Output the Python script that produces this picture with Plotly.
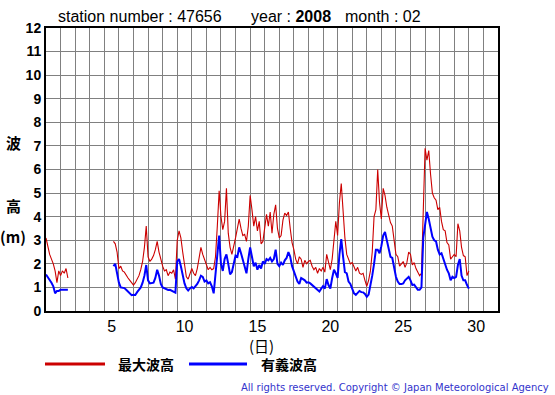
import plotly.graph_objects as go

# ---------------- data (wave heights in metres, 3-hourly) ----------------
STEP_DAYS = 3 / 24.0          # sampling interval
SEG1_START = 0.0              # Feb 1 00h (days since Feb 1 00h)
SEG2_START = 4.625            # Feb 5 15h

max_wave_seg1 = [3.1, 2.7, 2.4, 2.2, 2.0, 1.7, 1.2, 1.7, 1.5, 1.7, 1.6, 1.8, 1.4]
sig_wave_seg1 = [1.55, 1.45, 1.35, 1.2, 1.05, 0.75, 0.85, 0.85, 0.9, 0.9, 0.9, 0.92, 0.9]

max_wave_seg2 = [
    2.95, 2.85, 2.5, 1.8, 1.9, 1.7, 1.65, 1.5, 1.4, 1.3,
    1.17, 1.1, 1.2, 1.35, 1.5, 1.75, 2.1, 2.7, 3.6, 2.3,
    2.1, 2.2, 2.35, 2.6, 2.95, 2.5, 2.15, 1.9, 1.7, 1.75,
    1.5, 1.65, 1.6, 1.75, 1.35,
    3.0, 3.4, 3.1, 2.5, 1.9,
    1.45, 1.35, 1.6, 1.8, 1.6, 1.5, 1.8, 2.2, 2.7, 2.4,
    2.2, 1.95, 1.75, 1.85, 1.75, 1.8, 2.3, 3.6, 5.1, 4.0,
    3.45, 3.8, 5.2, 3.3, 2.7, 2.4, 2.7, 3.1, 3.5, 3.9,
    3.5, 3.2, 3.25, 2.95, 3.6,
    4.9, 4.3, 3.6, 4.0, 3.4,
    3.8, 2.85, 2.95, 3.6, 4.1, 3.6, 4.2, 3.3, 4.1, 4.5,
    3.5, 3.1, 3.2, 3.85, 4.15, 4.05, 4.2, 3.5, 2.9, 2.6,
    2.2, 2.0, 2.3, 2.2, 1.85, 2.15, 2.0, 2.1, 2.15, 1.9,
    1.75, 1.85, 1.6, 1.8, 1.7,
    1.85, 1.65, 2.4, 2.0, 1.75,
    2.2, 3.2, 3.8, 3.2, 4.6, 5.4, 4.2, 3.1, 2.4, 2.2,
    2.0, 2.05, 1.85, 1.7, 1.85, 1.6, 1.55, 1.6, 1.3, 1.05,
    1.3, 1.7, 2.5, 4.0, 4.3, 6.0, 4.6, 3.9, 5.2, 4.9,
    4.4, 4.0, 3.75, 3.6, 3.1,
    2.4, 2.3, 1.9, 2.0, 2.1,
    1.85, 2.05, 2.5, 2.4, 1.95, 2.05, 1.8, 1.65, 1.5, 1.6,
    3.8, 6.9, 6.4, 6.8, 5.8, 5.0, 4.8, 4.7, 4.3, 4.4,
    3.8, 3.45, 3.4, 2.9, 2.8, 2.2, 2.3, 2.4, 2.3, 3.7,
    3.4, 2.7, 2.35, 2.3, 1.5, 1.7,
]
sig_wave_seg2 = [
    1.9, 2.0, 1.6, 1.2, 1.0, 0.98, 0.97, 0.9, 0.83, 0.74,
    0.67, 0.69, 0.68, 0.8, 0.9, 1.0, 1.2, 1.5, 1.95, 1.3,
    1.17, 1.2, 1.2, 1.4, 1.75, 1.5, 1.15, 1.0, 0.96, 0.91,
    0.89, 0.9, 0.86, 0.85, 0.78,
    2.1, 2.2, 1.9, 1.45, 1.17,
    0.96, 0.87, 0.96, 1.02, 0.96, 1.05, 1.15, 1.3, 1.5, 1.45,
    1.25, 1.3, 1.17, 1.22, 1.05, 0.75, 1.6, 2.5, 3.2, 2.0,
    1.7, 2.2, 2.4, 2.0, 1.55, 1.65, 1.95, 2.35, 2.3, 2.7,
    2.45, 2.15, 1.9, 1.6, 2.2,
    2.7, 2.3, 1.9, 2.05, 1.75,
    1.95, 1.8, 2.1, 2.0, 2.2, 2.15, 2.25, 2.1, 2.2, 2.6,
    2.0, 1.9, 2.05, 1.95, 2.15, 2.25, 2.5, 2.3, 1.9, 1.65,
    1.45, 1.25, 1.15, 1.4, 1.35, 1.3, 1.2, 1.22, 1.17, 1.1,
    1.03, 0.96, 0.88, 0.83, 0.95,
    1.05, 0.95, 1.35, 1.1, 0.95,
    1.4, 1.75, 1.6, 1.4, 2.4, 3.05, 2.3, 1.65, 1.6, 1.25,
    1.15, 0.95, 0.75, 0.68, 0.75, 0.85, 0.8, 0.79, 0.72, 0.6,
    0.7, 1.05, 1.5, 2.0, 2.6, 2.6, 2.45, 2.75, 3.2, 3.35,
    3.0, 2.55, 2.3, 2.25, 1.75,
    1.45, 1.25, 1.14, 1.14, 1.17,
    1.3, 1.38, 1.45, 1.3, 1.1, 1.12, 1.0, 0.9, 0.9, 1.0,
    3.1, 3.6, 4.2, 3.9, 3.5, 3.15, 3.0, 2.95, 2.6, 2.4,
    2.45, 2.2, 1.95, 1.75, 1.6, 1.3, 1.45, 1.4, 1.45, 1.95,
    2.2, 1.5, 1.3, 1.3, 1.1, 0.95,
]

day_tick_vals = [4.5, 9.5, 14.5, 19.5, 24.5, 29.5]
day_tick_text = ["5", "10", "15", "20", "25", "30"]
y_tick_vals = list(range(0, 13))

# ---------------- build x (days since Feb 1 00h) ----------------
t1 = [SEG1_START + i * STEP_DAYS for i in range(len(max_wave_seg1))]
t2 = [SEG2_START + i * STEP_DAYS for i in range(len(max_wave_seg2))]
t_all = t1 + [None] + t2
max_all = max_wave_seg1 + [None] + max_wave_seg2
sig_all = sig_wave_seg1 + [None] + sig_wave_seg2

RED = "#cc0000"
BLUE = "#0000ff"
GRID = "#808080"
FONT = "Liberation Sans, Arial, sans-serif"
CJK = "Noto Sans CJK JP, sans-serif"

fig = go.Figure()
fig.add_trace(go.Scatter(x=t_all, y=max_all, mode="lines", name="最大波高",
                         line=dict(color=RED, width=1.1), connectgaps=False))
fig.add_trace(go.Scatter(x=t_all, y=sig_all, mode="lines", name="有義波高",
                         line=dict(color=BLUE, width=2), connectgaps=False))

W, H = 555, 395
L, T = 46, 28
PW, PH = 452, 283
R = W - L - PW
B = H - T - PH


def px(x):
    return (x - L) / PW


def py(y):
    return (T + PH - y) / PH


fig.update_layout(
    width=W, height=H, autosize=False,
    margin=dict(l=L, r=R, t=T, b=B),
    paper_bgcolor="white", plot_bgcolor="white",
    showlegend=False,
    font=dict(family=FONT, color="black"),
    xaxis=dict(
        range=[0, 31], tickmode="array", tickvals=day_tick_vals, ticktext=day_tick_text,
        showgrid=False, zeroline=False, ticks="",
        tickfont=dict(size=16, family=FONT, color="black"),
        showline=True, mirror=True, linecolor="black", linewidth=2,
        minor=dict(tickmode="linear", tick0=0, dtick=1, showgrid=True,
                   gridcolor=GRID, gridwidth=1, ticks=""),
    ),
    yaxis=dict(
        range=[0, 12], tickmode="array", tickvals=y_tick_vals,
        ticktext=[f"<b>{v}</b>" for v in y_tick_vals],
        showgrid=True, gridcolor=GRID, gridwidth=1, zeroline=False, ticks="",
        tickfont=dict(size=14, family=FONT, color="black"),
        showline=True, mirror=True, linecolor="black", linewidth=2,
    ),
)

ann = []
# title pieces
ann.append(dict(x=px(56), y=py(17), xref="paper", yref="paper", xanchor="left", yanchor="middle",
                text="station number : 47656", showarrow=False, font=dict(size=16, family=FONT)))
ann.append(dict(x=px(249), y=py(17), xref="paper", yref="paper", xanchor="left", yanchor="middle",
                text="year : <b>2008</b>", showarrow=False, font=dict(size=16, family=FONT)))
ann.append(dict(x=px(343), y=py(17), xref="paper", yref="paper", xanchor="left", yanchor="middle",
                text="month : 02", showarrow=False, font=dict(size=16, family=FONT)))
# y axis title (vertical stacked)
ann.append(dict(x=px(13), y=py(142), xref="paper", yref="paper", xanchor="center", yanchor="middle",
                text="<b>波</b>", showarrow=False, font=dict(size=15, family=CJK)))
ann.append(dict(x=px(13), y=py(205), xref="paper", yref="paper", xanchor="center", yanchor="middle",
                text="<b>高</b>", showarrow=False, font=dict(size=15, family=CJK)))
ann.append(dict(x=px(13), y=py(237), xref="paper", yref="paper", xanchor="center", yanchor="middle",
                text="<b>(m)</b>", showarrow=False, font=dict(size=15, family=CJK)))
# x axis title
ann.append(dict(x=px(261), y=py(345), xref="paper", yref="paper", xanchor="center", yanchor="middle",
                text="(日)", showarrow=False, font=dict(size=15, family=CJK)))
# legend labels
ann.append(dict(x=px(116), y=py(364), xref="paper", yref="paper", xanchor="left", yanchor="middle",
                text="<b>最大波高</b>", showarrow=False, font=dict(size=14, family=CJK)))
ann.append(dict(x=px(259), y=py(364), xref="paper", yref="paper", xanchor="left", yanchor="middle",
                text="<b>有義波高</b>", showarrow=False, font=dict(size=14, family=CJK)))
# copyright
ann.append(dict(x=px(551), y=py(387), xref="paper", yref="paper", xanchor="right", yanchor="middle",
                text="All rights reserved. Copyright © Japan Meteorological Agency", showarrow=False,
                font=dict(size=10, family="DejaVu Sans, sans-serif", color="#3333cc")))
fig.update_layout(annotations=ann)

fig.update_layout(shapes=[
    dict(type="line", xref="paper", yref="paper", x0=px(45), x1=px(105), y0=py(364), y1=py(364),
         line=dict(color=RED, width=3)),
    dict(type="line", xref="paper", yref="paper", x0=px(189), x1=px(247), y0=py(364), y1=py(364),
         line=dict(color=BLUE, width=3)),
])

# remove the page's default body margin so the figure fills the window exactly
fig.write_html("out.html", config={"displayModeBar": False},
               post_script="document.body.style.margin='0';")
